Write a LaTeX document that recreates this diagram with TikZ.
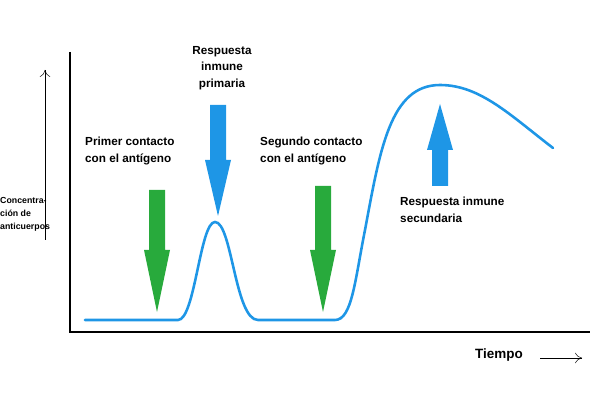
\documentclass[tikz,border=0pt]{standalone}
\usepackage{fontspec}
\setmainfont{Liberation Sans}
\usetikzlibrary{positioning,arrows.meta}
\definecolor{curveblue}{RGB}{30,150,230}
\definecolor{arrowgreen}{RGB}{40,170,60}
\tikzset{lbl/.style={font=\bfseries\fontsize{10}{14}\selectfont,align=left,anchor=north west,inner sep=0pt},
  thin arrow/.style={-{To[length=6pt,width=9pt]}},
}
\newcommand{\bigarrow}[5]{% x, tail y, shaft end y, tip y, colour
  \fill[#5] (#1-8,#2) -- (#1+8,#2) -- (#1+8,#3) -- (#1+13,#3) -- (#1,#4) -- (#1-13,#3) -- (#1-8,#3) -- cycle;}

\begin{document}
\begin{tikzpicture}[x=0.03cm,y=-0.03cm]
\useasboundingbox (0,0) rectangle (614,400);

% axes
\draw[line width=2.2pt] (70,52) -- (70,332) -- (590,332);
\coordinate (ylow) at (45,240);
\coordinate (yhigh) at (45,70);
\draw[thin arrow] (ylow) -- (yhigh);
\node[lbl,font=\bfseries\fontsize{7.5}{11}\selectfont] (ylab) at (0,197) {Concentra-\\ción de\\anticuerpos};
\node[lbl,font=\bfseries\fontsize{11.5}{14}\selectfont] (xlab) at (475,349) {Tiempo};
\coordinate (xs) at (540,358);
\coordinate (xe) at (582,358);
\draw[thin arrow] (xs) -- (xe);

% curve
\draw[curveblue,line width=2.2pt,line cap=round]
  (85,320) -- (178,320) .. controls (195,320) and (200,222) .. (215,222)
  .. controls (232,222) and (235,320) .. (258,320) -- (335,320)
  .. controls (352,320) and (355,280) .. (365,230)
  .. controls (380,150) and (390,85) .. (440,85)
  .. controls (480,85) and (510,115) .. (553,148);

% arrows
\bigarrow{157}{190}{250}{312}{arrowgreen}
\bigarrow{323}{186}{250}{312}{arrowgreen}
\bigarrow{218}{105}{160}{216}{curveblue}
\bigarrow{440}{186}{150}{104}{curveblue}

% labels
\node[lbl,align=center,anchor=north] (prim) at (222,46) {Respuesta\\inmune\\primaria};
\node[lbl] (first) at (85,137) {Primer contacto\\con el antígeno};
\node[lbl] (second) at (260,137) {Segundo contacto\\con el antígeno};
\node[lbl] (sec) at (400,197) {Respuesta inmune\\secundaria};
\end{tikzpicture}
\end{document}
